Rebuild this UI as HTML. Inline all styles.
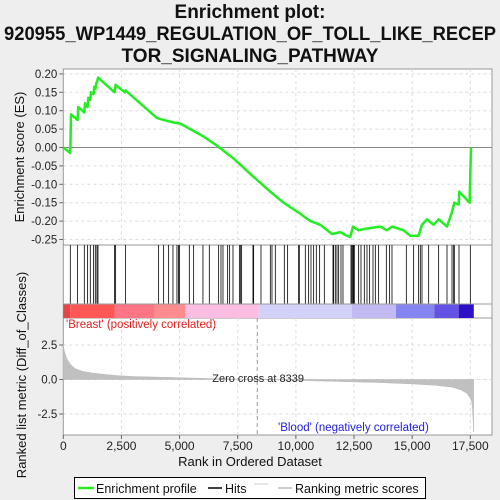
<!DOCTYPE html>
<html><head><meta charset="utf-8">
<style>
html,body{margin:0;padding:0;background:#eeeeee;}
svg{display:block;font-family:"Liberation Sans","DejaVu Sans",sans-serif;}
</style></head>
<body>
<svg id="chart" width="500" height="500" viewBox="0 0 500 500">
<g font-weight="bold" font-size="19" text-anchor="middle" fill="#111">
<text x="250" y="18">Enrichment plot:</text>
<text x="250" y="40" textLength="492" lengthAdjust="spacingAndGlyphs">920955_WP1449_REGULATION_OF_TOLL_LIKE_RECEP</text>
<text x="250" y="62">TOR_SIGNALING_PATHWAY</text>
</g>
<rect x="0" y="0" width="500" height="3" fill="#eeeeee"/>
<g id="plots"></g>
</svg>
<script>
// ---- data ----
const esRanks = [0,301,330,616,645,903,932,1046,1075,1161,1190,1304,1333,1390,1419,1462,1491,2207,2250,2652,2680,4028,4314,4744,5031,5461,6034,6608,7324,8184,8901,9474,10191,10621,11051,11553,11911,12198,12341,12456,12699,13058,13631,13918,14133,14634,14921,15279,15423,15638,15924,16139,16498,16713,16813,17000,17028,17472,17501,17530];
const esValues = [0,-0.015,0.09,0.075,0.11,0.095,0.12,0.11,0.135,0.13,0.15,0.145,0.165,0.16,0.175,0.18,0.19,0.15,0.17,0.15,0.155,0.08,0.075,0.068,0.065,0.05,0.03,0.005,-0.03,-0.08,-0.12,-0.15,-0.18,-0.2,-0.21,-0.235,-0.23,-0.24,-0.243,-0.215,-0.225,-0.22,-0.215,-0.225,-0.215,-0.225,-0.24,-0.24,-0.21,-0.195,-0.21,-0.195,-0.215,-0.175,-0.15,-0.155,-0.12,-0.15,-0.075,0.0];
const hitRanks = [301,616,903,1046,1161,1304,1376,1447,1491,2207,2250,2680,4099,4314,4529,4715,4887,4958,5001,5418,5604,6005,6278,6679,6780,6866,7066,7152,7296,7582,7611,7668,8156,8184,8500,8901,8973,9116,9503,9646,10119,10148,10406,10549,10650,10764,10879,11022,11223,11596,11625,11696,11768,11840,11940,12026,12370,12413,12456,12485,12513,12699,12800,12943,13058,13172,13316,13416,13559,13889,14032,14133,14749,15064,15279,15351,15423,15710,16139,16498,16713,16785,16813,17014,17501];
const metricRanks = [0,50,150,300,500,800,1200,1600,2200,3000,4500,6000,8339,10000,12000,13500,15000,16000,16700,17100,17350,17500,17560,17600,17640];
const metricValues = [2.5,2.0,1.5,1.1,0.8,0.6,0.48,0.4,0.3,0.22,0.15,0.08,0,-0.06,-0.15,-0.22,-0.32,-0.42,-0.55,-0.75,-1.0,-1.35,-1.6,-2.2,-3.8];
const colorStops = [0,300,2200,3900,5250,8400,12400,14300,15950,17000,17650];
const colorFills = ["#e84545","#ff5656","#ff7585","#ff8c8c","#fbbde2","#d2d2f8","#c2baf2","#8585f2","#6452e4","#2c10c8"];
const esTicks = [0.20,0.15,0.10,0.05,0.00,-0.05,-0.10,-0.15,-0.20,-0.25];
const metricTicks = [2.5,0.0,-2.5];
const xTicks = [0,2500,5000,7500,10000,12500,15000,17500];
const zeroCross = 8339;

// ---- scales ----
const L=63.3,R=492;
const xS = r => L + r*(407/17500);
const yES = v => 147.5 - v*368;
const yM = v => 379.5 - v*13.8;
const NS="http://www.w3.org/2000/svg";
const g=document.getElementById('plots');
function el(tag,attrs,parent){const e=document.createElementNS(NS,tag);for(const k in attrs)e.setAttribute(k,attrs[k]);(parent||g).appendChild(e);return e;}

// panels
let p=el('rect',{x:L,y:69,width:R-L,height:176,fill:'#fff',stroke:'#999'});


p=el('rect',{x:L,y:245,width:R-L,height:73,fill:'#fff',stroke:'#999'});


p=el('rect',{x:L,y:318,width:R-L,height:117,fill:'#fff',stroke:'#999'});



// grid
xTicks.forEach(t=>{
 if(t>0){el('line',{x1:xS(t),x2:xS(t),y1:69,y2:245,stroke:'#ddd','stroke-dasharray':'3,3'});
 el('line',{x1:xS(t),x2:xS(t),y1:318,y2:435,stroke:'#ddd','stroke-dasharray':'3,3'});}
 const tx=el('text',{x:xS(t),y:450,'font-size':12,'text-anchor':'middle',fill:'#222'});tx.textContent=t.toLocaleString('en-US');
 
 
 el('line',{x1:xS(t),x2:xS(t),y1:435,y2:439,stroke:'#666'});
});
esTicks.forEach(t=>{
 el('line',{x1:L,x2:R,y1:yES(t),y2:yES(t),stroke:'#ddd','stroke-dasharray':'3,3'});
 el('line',{x1:L-4,x2:L,y1:yES(t),y2:yES(t),stroke:'#666'});
 const tx=el('text',{x:L-6,y:yES(t)+4,'font-size':11.5,'text-anchor':'end',fill:'#222'});tx.textContent=t.toFixed(2);
 
 
});
metricTicks.forEach(t=>{
 el('line',{x1:L,x2:R,y1:yM(t),y2:yM(t),stroke:'#ddd','stroke-dasharray':'3,3'});
 el('line',{x1:L-4,x2:L,y1:yM(t),y2:yM(t),stroke:'#666'});
 const tx=el('text',{x:L-6,y:yM(t)+4,'font-size':11.5,'text-anchor':'end',fill:'#222'});tx.textContent=t.toFixed(1);
 
 
});
el('line',{x1:L,x2:R,y1:yES(0),y2:yES(0),stroke:'#888'});

// ES curve
const pts=esRanks.map((r,i)=>xS(r).toFixed(1)+','+yES(esValues[i]).toFixed(1)).join(' ');
const esl=el('polyline',{points:pts,fill:'none',stroke:'#22ee22','stroke-width':2.5,'stroke-linejoin':'round'});



// hits
hitRanks.forEach(r=>{
 const h=el('line',{x1:xS(r),x2:xS(r),y1:245,y2:304,stroke:'#000','stroke-width':0.8});
 
 
});

// color bar
for(let i=0;i<colorFills.length;i++){
 const c=el('rect',{x:xS(colorStops[i]),y:304,width:xS(colorStops[i+1])-xS(colorStops[i]),height:14,fill:colorFills[i]});
 
 
}
el('line',{x1:L,x2:R,y1:304,y2:304,stroke:'#999'});

// metric area
let d='M'+xS(0)+','+yM(0);
metricRanks.forEach((r,i)=>{d+=' L'+xS(r).toFixed(1)+','+yM(metricValues[i]).toFixed(1);});
d+=' L'+xS(metricRanks[metricRanks.length-1]).toFixed(1)+','+yM(0)+' Z';
const ma=el('path',{d:d,fill:'#c0c0c0',stroke:'#b8b8b8','stroke-width':0.5});



// zero cross
el('line',{x1:xS(zeroCross),x2:xS(zeroCross),y1:318,y2:435,stroke:'#999','stroke-dasharray':'4,3'});
let t=el('text',{x:xS(zeroCross)-45,y:382,'font-size':11,fill:'#222'});t.textContent='Zero cross at '+zeroCross;


t=el('text',{x:66,y:328,'font-size':11.5,fill:'#e02020'});t.textContent="'Breast' (positively correlated)";


t=el('text',{x:278,y:431,'font-size':11.5,fill:'#2020e0'});t.textContent="'Blood' (negatively correlated)";



// axis titles
t=el('text',{x:250,y:466,'font-size':13,'text-anchor':'middle',fill:'#111'});t.textContent='Rank in Ordered Dataset';


t=el('text',{x:0,y:0,'font-size':13,'text-anchor':'middle',fill:'#111',transform:'translate(24,157) rotate(-90)'});t.textContent='Enrichment score (ES)';


t=el('text',{x:0,y:0,'font-size':13,'text-anchor':'middle',fill:'#111',transform:'translate(26,375) rotate(-90)'});t.textContent='Ranked list metric (Diff_of_Classes)';



// legend
const lg=el('g',{});


el('rect',{x:74.5,y:477.5,width:351,height:21,fill:'#fff',stroke:'#000'},lg);
el('line',{x1:78,x2:94,y1:488,y2:488,stroke:'#22ee22','stroke-width':2.5},lg);
t=el('text',{x:96,y:493,'font-size':12.5,fill:'#111'},lg);t.textContent='Enrichment profile';


el('line',{x1:208,x2:222,y1:488,y2:488,stroke:'#000','stroke-width':1.5},lg);
t=el('text',{x:225,y:493,'font-size':12.5,fill:'#111'},lg);t.textContent='Hits';


el('line',{x1:254,x2:268,y1:484,y2:484,stroke:'#ccc','stroke-width':1},lg);
el('line',{x1:278,x2:292,y1:488,y2:488,stroke:'#bbb','stroke-width':1.5},lg);
t=el('text',{x:295,y:493,'font-size':12.5,fill:'#111'},lg);t.textContent='Ranking metric scores';


</script>
</body></html>
